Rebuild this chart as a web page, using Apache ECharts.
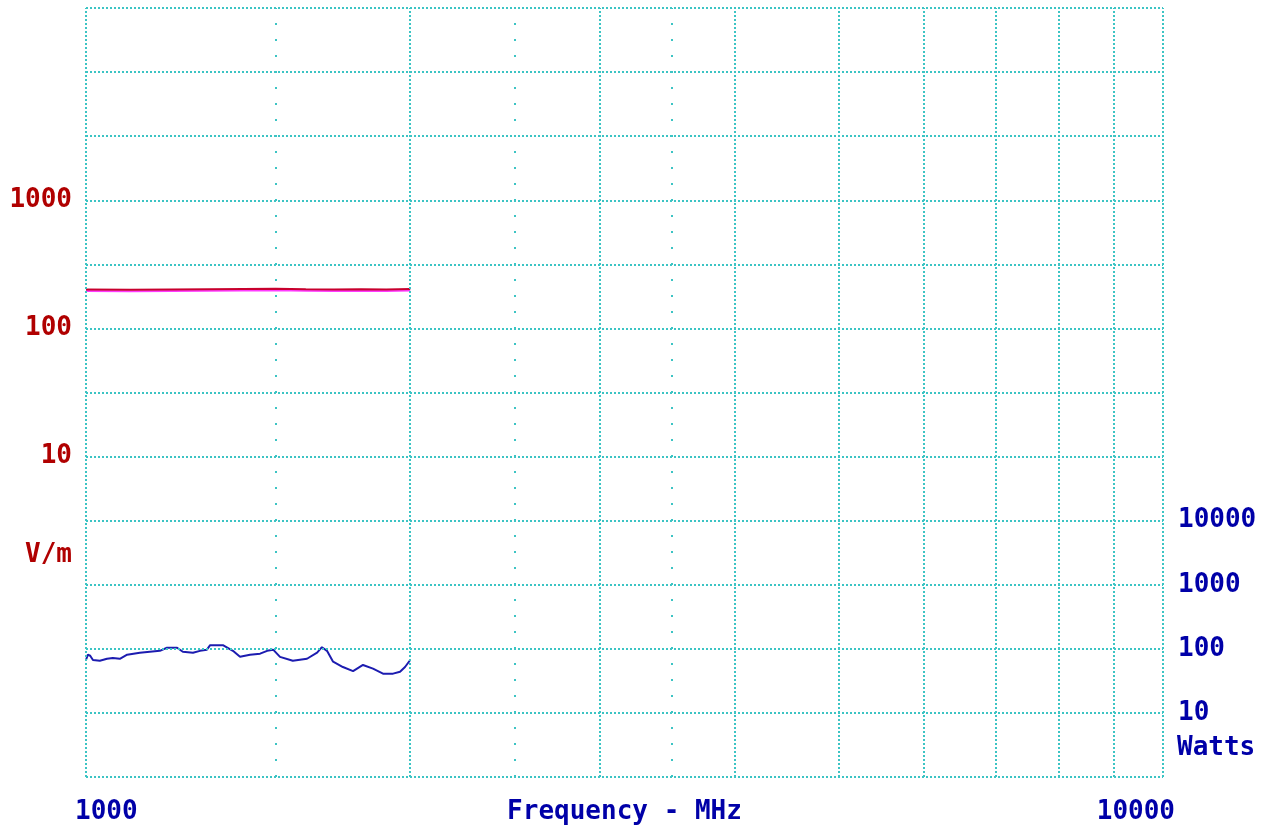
<!DOCTYPE html>
<html>
<head>
<meta charset="utf-8">
<script src="https://cdn.jsdelivr.net/npm/echarts@6/dist/echarts.min.js"></script>
<style>
html,body{margin:0;padding:0;background:#fff;}
#chart{width:1267px;height:827px;}
</style>
</head>
<body>
<div id="chart"></div>
<script>
// ---- data ----
const xTickLabels = [1000, 10000];
const leftTickLabels = [10, 100, 1000];
const rightTickLabels = [10, 100, 1000, 10000];

const vGridSolid = [1000, 2000, 3000, 4000, 5000, 6000, 7000, 8000, 9000, 10000];
const vGridSparse = [1500, 2500, 3500];
const hGridWatts = [1, 10, 100, 1000, 1e4, 1e5, 1e6, 1e7, 1e8, 1e9, 1e10, 1e11, 1e12];

const redFreq = [1000, 1100, 1200, 1300, 1400, 1500, 1600, 1700, 1800, 1900, 2000];
const redVm   = [201, 200, 201, 202, 203, 204, 202, 201, 202, 201, 203];

const blueFreq = [1000, 1004, 1009, 1015, 1030, 1046, 1059, 1075, 1092, 1122, 1171, 1189, 1215, 1230, 1257, 1276, 1295, 1304, 1340, 1369, 1390, 1420, 1451, 1473, 1492, 1514, 1556, 1604, 1639, 1656, 1674, 1696, 1732, 1770, 1808, 1847, 1887, 1928, 1957, 1978, 2000];
const blueWatts = [67, 81, 78, 67, 65, 70, 72, 70, 81, 87, 93, 104, 104, 90, 87, 93, 97, 114, 114, 93, 75, 81, 84, 93, 97, 75, 65, 70, 87, 106, 93, 63, 52, 45, 56, 49, 41, 41, 44, 52, 67];

// ---- styles ----
const FONT = 'DejaVu Sans Mono';
const GRID_COLOR = '#3cc4c4';
const RED_TXT = '#b00000';
const BLUE_TXT = '#0000a8';

const zip = (a, b) => a.map((v, i) => [v, b[i]]);

const gridLines = [];
vGridSolid.forEach(v => gridLines.push({xAxis: v, lineStyle: {type: [2, 2]}}));
vGridSparse.forEach(v => gridLines.push({xAxis: v, lineStyle: {type: [2, 14]}}));
hGridWatts.forEach(v => gridLines.push({yAxis: v, lineStyle: {type: [2, 2]}}));

const chart = echarts.init(document.getElementById('chart'), null, {renderer: 'canvas'});
chart.setOption({
  animation: false,
  backgroundColor: '#ffffff',
  grid: {left: 86, right: 104, top: 8, bottom: 50, containLabel: false, outerBoundsMode: 'none'},
  xAxis: {
    type: 'log', logBase: 10, min: 1000, max: 10000,
    name: 'Frequency - MHz', nameLocation: 'middle', nameGap: 22, nameMoveOverlap: false,
    nameTextStyle: {fontFamily: FONT, fontWeight: 'bold', fontSize: 26, color: BLUE_TXT, verticalAlign: 'top'},
    axisLine: {show: false}, axisTick: {show: false}, splitLine: {show: false},
    axisLabel: {
      customValues: xTickLabels,
      fontFamily: FONT, fontWeight: 'bold', fontSize: 26, color: BLUE_TXT, margin: 22,
      alignMinLabel: 'left', alignMaxLabel: 'right', padding: [0, -12, 0, -11],
      formatter: v => String(Math.round(v))
    }
  },
  yAxis: [
    {
      type: 'log', logBase: 10, min: Math.pow(10, -1.5), max: Math.pow(10, 4.5), position: 'left',
      axisLine: {show: false}, axisTick: {show: false}, splitLine: {show: false},
      axisLabel: {
        customValues: leftTickLabels,
        fontFamily: FONT, fontWeight: 'bold', fontSize: 26, color: RED_TXT, margin: 14,
        padding: [6, 0, 0, 0],
        formatter: v => String(Math.round(v))
      }
    },
    {
      type: 'log', logBase: 10, min: 1, max: 1e12, position: 'right',
      axisLine: {show: false}, axisTick: {show: false}, splitLine: {show: false},
      axisLabel: {
        customValues: rightTickLabels,
        fontFamily: FONT, fontWeight: 'bold', fontSize: 26, color: BLUE_TXT, margin: 15,
        padding: [6, 0, 0, 0],
        formatter: v => String(Math.round(v))
      }
    }
  ],
  graphic: [
    {type: 'text', right: 1267 - 72, top: 542, style: {text: 'V/m', fontFamily: FONT, fontWeight: 'bold', fontSize: 26, fill: RED_TXT}},
    {type: 'text', left: 1177, top: 735, style: {text: 'Watts', fontFamily: FONT, fontWeight: 'bold', fontSize: 26, fill: BLUE_TXT}}
  ],
  series: [
    {
      name: 'grid', type: 'line', xAxisIndex: 0, yAxisIndex: 1, data: [], silent: true, z: 1,
      markLine: {
        silent: true, symbol: ['none', 'none'], label: {show: false}, animation: false,
        lineStyle: {color: GRID_COLOR, width: 2},
        data: gridLines
      }
    },
    {
      name: 'Field', type: 'line', xAxisIndex: 0, yAxisIndex: 0, z: 3,
      data: zip(redFreq, redVm), showSymbol: false, symbol: 'none',
      lineStyle: {color: '#c8002e', width: 2, shadowColor: '#ff3cff', shadowOffsetY: 1.5, shadowBlur: 0}
    },
    {
      name: 'Power', type: 'line', xAxisIndex: 0, yAxisIndex: 1, z: 3,
      data: zip(blueFreq, blueWatts), showSymbol: false, symbol: 'none',
      lineStyle: {color: '#1c1cb0', width: 2}
    }
  ]
});
</script>
</body>
</html>
